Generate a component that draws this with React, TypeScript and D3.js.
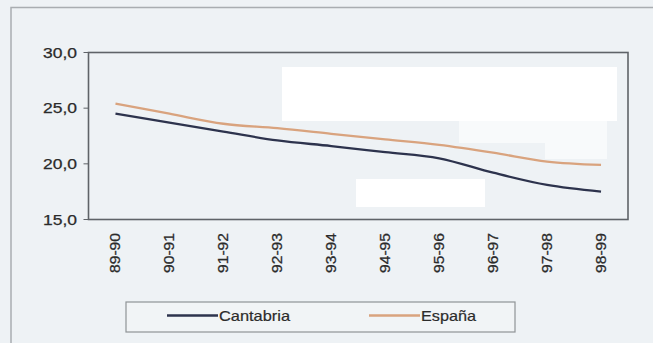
import React from "react";
import * as d3 from "d3";

const categories = ["89-90", "90-91", "91-92", "92-93", "93-94", "94-95", "95-96", "96-97", "97-98", "98-99"];
const cantabria = [24.5, 23.7, 22.9, 22.1, 21.6, 21.05, 20.5, 19.2, 18.1, 17.5];
const espana = [25.4, 24.5, 23.6, 23.2, 22.7, 22.2, 21.7, 21.0, 20.2, 19.9];
const yTicks = [15, 20, 25, 30];
const seriesNames = ["Cantabria", "España"];

const W = 653;
const H = 343;
const M = { left: 88.5, right: 628, top: 52.5, bottom: 219.5 };

export default function App() {
  const x = d3.scaleBand<string>().domain(categories).range([M.left, M.right]);
  const y = d3.scaleLinear().domain([15, 30]).range([M.bottom, M.top]);
  const cx = (c: string) => (x(c) as number) + x.bandwidth() / 2;
  const line = d3
    .line<number>()
    .x((_, i) => cx(categories[i]))
    .y((d) => y(d))
    .curve(d3.curveMonotoneX);
  const fmt = (v: number) => v.toFixed(1).replace(".", ",");
  const font = "'Liberation Sans', Arial, sans-serif";
  const colors = ["#2d334d", "#d9a37e"];
  const legendLens = [71, 55];

  return (
    <svg width={W} height={H} style={{ position: "absolute", left: 0, top: 0 }}>
      <rect x={0} y={0} width={W} height={H} fill="#eef2f5" />
      <path d={`M11,${H} V7.5 H${W}`} fill="none" stroke="#a9adb1" strokeWidth={1.5} />
      {/* masked areas */}
      <rect x={282} y={67} width={335} height={54} fill="#ffffff" />
      <rect x={459} y={121} width={148} height={22} fill="#f8fafb" />
      <rect x={545} y={143} width={62} height={16} fill="#f8fafb" />
      <rect x={356} y={179} width={129} height={28} fill="#ffffff" />
      {/* plot frame */}
      <rect
        x={M.left}
        y={M.top}
        width={M.right - M.left}
        height={M.bottom - M.top}
        fill="none"
        stroke="#5f6368"
        strokeWidth={1.6}
      />
      {yTicks.map((t) => (
        <g key={t}>
          <line x1={M.left - 5} x2={M.left} y1={y(t)} y2={y(t)} stroke="#5f6368" strokeWidth={1} />
          <text
            x={77}
            y={y(t)}
            dy="0.36em"
            textAnchor="end"
            fontFamily={font}
            fontSize={14}
            fill="#2b2b2b"
            stroke="#2b2b2b"
            strokeWidth={0.25}
            textLength={34}
            lengthAdjust="spacingAndGlyphs"
          >
            {fmt(t)}
          </text>
        </g>
      ))}
      {categories.map((c) => (
        <text
          key={c}
          transform={`translate(${cx(c) + 5},233) rotate(-90)`}
          textAnchor="end"
          fontFamily={font}
          fontSize={14.5}
          fill="#2b2b2b"
          stroke="#2b2b2b"
          strokeWidth={0.25}
          textLength={40}
          lengthAdjust="spacingAndGlyphs"
        >
          {c}
        </text>
      ))}
      <path d={line(espana) || ""} fill="none" stroke={colors[1]} strokeWidth={2.3} />
      <path d={line(cantabria) || ""} fill="none" stroke={colors[0]} strokeWidth={2.3} />
      {/* legend */}
      <rect x={126} y={302} width={389} height={30} fill="#f1f4f6" stroke="#8f9397" strokeWidth={1.2} />
      {seriesNames.map((n, i) => {
        const lx = i === 0 ? 167 : 369;
        return (
          <g key={n}>
            <line x1={lx} x2={lx + 51} y1={315.5} y2={315.5} stroke={colors[i]} strokeWidth={2.3} />
            <text
              x={lx + 52}
              y={316}
              dy="0.36em"
              fontFamily={font}
              fontSize={15}
              fill="#2b2b2b"
              stroke="#2b2b2b"
              strokeWidth={0.2}
              textLength={legendLens[i]}
              lengthAdjust="spacingAndGlyphs"
            >
              {n}
            </text>
          </g>
        );
      })}
    </svg>
  );
}
